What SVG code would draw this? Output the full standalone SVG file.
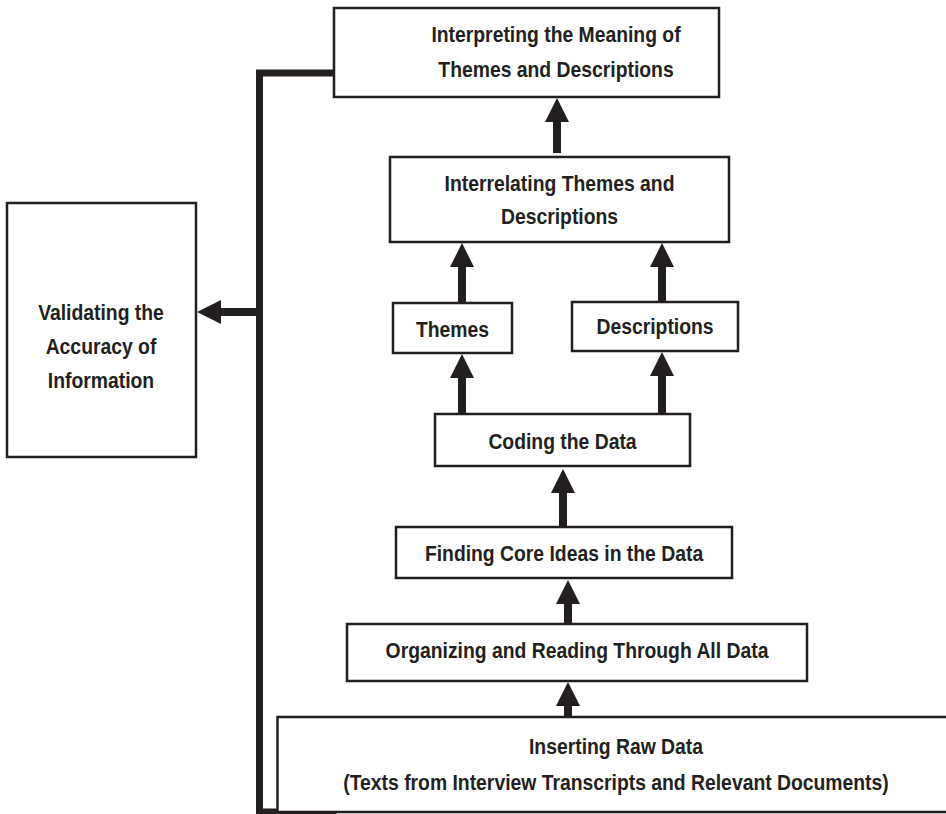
<svg xmlns="http://www.w3.org/2000/svg" width="946" height="814" viewBox="0 0 946 814">
  <style>
    .box { fill: #ffffff; stroke: #231f20; stroke-width: 2.5; }
    .lbl { font-family: "Liberation Sans", Arial, sans-serif; font-weight: bold; font-size: 21.5px; fill: #231f20; text-anchor: middle; }
    .shaft { stroke: #231f20; stroke-width: 8; fill: none; }
    .bus { stroke: #231f20; stroke-width: 7; fill: none; stroke-linecap: square; }
  </style>
  <defs>
    <marker id="head" viewBox="0 0 24 24" refX="0" refY="12" markerWidth="24" markerHeight="24" markerUnits="userSpaceOnUse" orient="auto">
      <path d="M0,0 L24,12 L0,24 Z" fill="#231f20"/>
    </marker>
  </defs>
  <rect width="946" height="814" fill="#ffffff"/>

  <!-- connectors -->
  <g id="connectors">
    <!-- feedback bus on the left -->
    <path class="bus" d="M334,73 H259.5 V812 H333"/>
    <line class="shaft" x1="256" y1="312" x2="221" y2="312" marker-end="url(#head)"/>
    <!-- upward flow -->
    <line class="shaft" x1="568" y1="717" x2="568" y2="706" marker-end="url(#head)"/>
    <line class="shaft" x1="568" y1="624" x2="568" y2="604" marker-end="url(#head)"/>
    <line class="shaft" x1="563" y1="527" x2="563" y2="493" marker-end="url(#head)"/>
    <line class="shaft" x1="462" y1="414" x2="462" y2="378" marker-end="url(#head)"/>
    <line class="shaft" x1="662" y1="414" x2="662" y2="376" marker-end="url(#head)"/>
    <line class="shaft" x1="462" y1="302" x2="462" y2="267" marker-end="url(#head)"/>
    <line class="shaft" x1="662" y1="301" x2="662" y2="267" marker-end="url(#head)"/>
    <line class="shaft" x1="557" y1="153" x2="557" y2="122" marker-end="url(#head)"/>
  </g>

  <!-- labels are drawn slightly condensed: scale(0.9,1) about their anchor -->
  <g id="interpreting">
    <rect class="box" x="334" y="8" width="385" height="89"/>
    <text class="lbl" transform="translate(556,42) scale(0.9,1)">Interpreting the Meaning of</text>
    <text class="lbl" transform="translate(556,77) scale(0.9,1)">Themes and Descriptions</text>
  </g>

  <g id="interrelating">
    <rect class="box" x="390" y="157" width="339" height="85"/>
    <text class="lbl" transform="translate(559.5,191) scale(0.9,1)">Interrelating Themes and</text>
    <text class="lbl" transform="translate(559.5,224) scale(0.9,1)">Descriptions</text>
  </g>

  <g id="themes">
    <rect class="box" x="393" y="303" width="119" height="50"/>
    <text class="lbl" transform="translate(452.5,337) scale(0.9,1)">Themes</text>
  </g>

  <g id="descriptions">
    <rect class="box" x="572" y="302" width="166" height="49"/>
    <text class="lbl" transform="translate(655,334) scale(0.9,1)">Descriptions</text>
  </g>

  <g id="coding">
    <rect class="box" x="435" y="414" width="255" height="52"/>
    <text class="lbl" transform="translate(562.5,449) scale(0.9,1)">Coding the Data</text>
  </g>

  <g id="finding">
    <rect class="box" x="396" y="527" width="336" height="51"/>
    <text class="lbl" transform="translate(564,561) scale(0.9,1)">Finding Core Ideas in the Data</text>
  </g>

  <g id="organizing">
    <rect class="box" x="347" y="624" width="460" height="57"/>
    <text class="lbl" transform="translate(577,658) scale(0.9,1)">Organizing and Reading Through All Data</text>
  </g>

  <g id="raw-data">
    <rect class="box" x="277.5" y="717" width="700" height="95"/>
    <text class="lbl" transform="translate(616,754) scale(0.9,1)">Inserting Raw Data</text>
    <text class="lbl" transform="translate(616,790) scale(0.9,1)">(Texts from Interview Transcripts and Relevant Documents)</text>
  </g>

  <g id="validating">
    <rect class="box" x="7" y="203" width="189" height="254"/>
    <text class="lbl" transform="translate(101,320) scale(0.9,1)">Validating the</text>
    <text class="lbl" transform="translate(101,354) scale(0.9,1)">Accuracy of</text>
    <text class="lbl" transform="translate(101,388) scale(0.9,1)">Information</text>
  </g>
</svg>
